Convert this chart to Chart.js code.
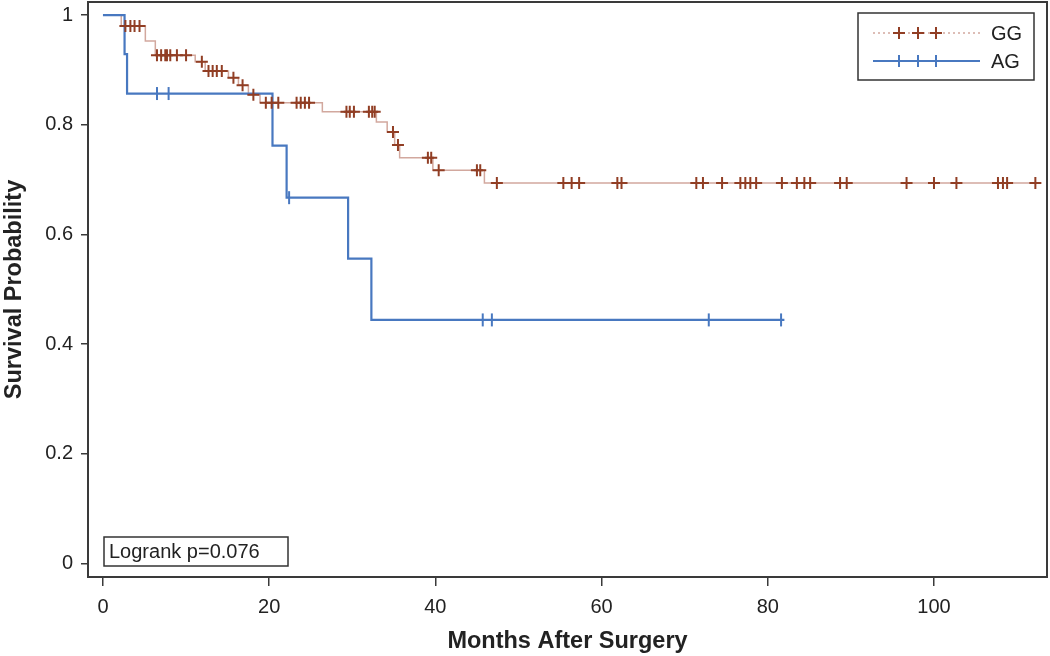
<!DOCTYPE html>
<html>
<head>
<meta charset="utf-8">
<script src="https://cdn.jsdelivr.net/npm/chart.js@4.4.1/dist/chart.umd.min.js"></script>
<style>
  body { margin: 0; background: #fff; }
  canvas { display: block; }
</style>
</head>
<body>
<canvas id="kmChart" width="1050" height="656"></canvas>
<script>
// Kaplan-Meier curves: step times (months) and survival after each step
const ggStepTimes = [0, 2.2, 5.1, 6.3, 11.1, 12.3, 15.1, 16.3, 17.5, 18.9, 26.4, 32.9, 34.2, 35.1, 35.7, 39.7, 45.9, 112.8];
const ggStepSurv  = [1, 0.98, 0.953, 0.927, 0.915, 0.898, 0.886, 0.872, 0.855, 0.840, 0.824, 0.805, 0.787, 0.763, 0.740, 0.717, 0.694, 0.694];
const ggCensorTimes = [2.7, 3.3, 3.8, 4.4, 6.5, 7.0, 7.5, 7.7, 8.1, 8.9, 10.0, 11.9, 12.7, 13.2, 13.7, 14.3,
  15.7, 16.8, 18.1, 19.6, 20.3, 21.1, 23.3, 23.8, 24.3, 24.8, 29.3, 29.7, 30.2, 32.0, 32.4, 32.7, 34.9, 35.5,
  39.1, 39.5, 40.4, 45.0, 45.4, 47.4, 55.4, 56.4, 57.3, 61.9, 62.4, 71.4, 72.2, 74.5, 76.7, 77.3, 77.9, 78.6,
  81.7, 83.5, 84.4, 85.1, 88.7, 89.5, 96.7, 100.0, 102.7, 107.7, 108.3, 108.8, 112.2];

const agStepTimes = [0, 2.6, 2.9, 20.4, 22.1, 29.5, 32.3, 82.0];
const agStepSurv  = [1, 0.929, 0.857, 0.762, 0.667, 0.556, 0.444, 0.444];
const agCensorTimes = [6.5, 7.9, 22.4, 45.7, 46.8, 72.9, 81.6];

const xTicks = [0, 20, 40, 60, 80, 100];
const yTicks = [0, 0.2, 0.4, 0.6, 0.8, 1];
const yTickLabels = ['0', '0.2', '0.4', '0.6', '0.8', '1'];
const seriesNames = ['GG', 'AG'];
const logrankText = 'Logrank p=0.076';

const FONT = "'Liberation Sans', Arial, sans-serif";
const GG_LINE = 'rgb(210,168,158)';
const GG_MARK = 'rgb(145,62,36)';
const AG_COLOR = 'rgb(72,120,192)';
const FRAME = '#3a3a3a';

function survAt(times, surv, t) {
  let s = surv[0];
  for (let i = 0; i < times.length; i++) {
    if (times[i] <= t) s = surv[i];
  }
  return s;
}

function stepPoints(times, surv) {
  return times.map((t, i) => ({ x: t, y: surv[i] }));
}

function censorPoints(censors, times, surv) {
  return censors.map(t => ({ x: t, y: survAt(times, surv, t) }));
}

// frame around plot, legend box and logrank note
const overlayPlugin = {
  id: 'kmOverlay',
  afterDraw(chart) {
    const ctx = chart.ctx;
    const a = chart.chartArea;
    ctx.save();
    ctx.strokeStyle = FRAME;
    ctx.lineWidth = 2;
    ctx.strokeRect(a.left, a.top, a.right - a.left, a.bottom - a.top);

    // legend
    const lx = 858, ly = 13, lw = 176, lh = 67;
    ctx.lineWidth = 1.5;
    ctx.strokeStyle = '#333';
    ctx.fillStyle = '#fff';
    ctx.fillRect(lx, ly, lw, lh);
    ctx.strokeRect(lx, ly, lw, lh);

    const rows = [
      { y: 33, name: seriesNames[0], dash: [2, 3], line: GG_LINE, mark: GG_MARK, cross: true },
      { y: 61, name: seriesNames[1], dash: [], line: AG_COLOR, mark: AG_COLOR, cross: false }
    ];
    rows.forEach(r => {
      ctx.beginPath();
      ctx.setLineDash(r.dash);
      ctx.strokeStyle = r.line;
      ctx.lineWidth = r.cross ? 1.5 : 2;
      ctx.moveTo(873, r.y);
      ctx.lineTo(980, r.y);
      ctx.stroke();
      ctx.setLineDash([]);
      ctx.strokeStyle = r.mark;
      ctx.lineWidth = 2;
      [899, 918, 936].forEach(mx => {
        ctx.beginPath();
        ctx.moveTo(mx, r.y - 6);
        ctx.lineTo(mx, r.y + 6);
        if (r.cross) {
          ctx.moveTo(mx - 6, r.y);
          ctx.lineTo(mx + 6, r.y);
        }
        ctx.stroke();
      });
      ctx.fillStyle = '#222';
      ctx.font = '20px ' + FONT;
      ctx.textBaseline = 'middle';
      ctx.textAlign = 'left';
      ctx.fillText(r.name, 991, r.y + 1);
    });

    // logrank box
    ctx.strokeStyle = '#333';
    ctx.lineWidth = 1.5;
    ctx.strokeRect(104, 537, 184, 29);
    ctx.fillStyle = '#222';
    ctx.font = '20px ' + FONT;
    ctx.textBaseline = 'middle';
    ctx.fillText(logrankText, 109, 552);
    ctx.restore();
  }
};

new Chart(document.getElementById('kmChart'), {
  type: 'line',
  data: {
    datasets: [
      {
        label: 'GG censored',
        type: 'scatter',
        data: censorPoints(ggCensorTimes, ggStepTimes, ggStepSurv),
        pointStyle: 'cross',
        pointRadius: 6,
        borderColor: GG_MARK,
        backgroundColor: GG_MARK,
        borderWidth: 2,
        showLine: false
      },
      {
        label: 'AG censored',
        type: 'scatter',
        data: censorPoints(agCensorTimes, agStepTimes, agStepSurv),
        pointStyle: 'line',
        rotation: 90,
        pointRadius: 6.5,
        borderColor: AG_COLOR,
        backgroundColor: AG_COLOR,
        borderWidth: 2,
        showLine: false
      },
      {
        label: 'AG',
        data: stepPoints(agStepTimes, agStepSurv),
        stepped: 'before',
        borderColor: AG_COLOR,
        borderWidth: 2.2,
        pointRadius: 0,
        fill: false
      },
      {
        label: 'GG',
        data: stepPoints(ggStepTimes, ggStepSurv),
        stepped: 'before',
        borderColor: GG_LINE,
        borderWidth: 1.5,
        pointRadius: 0,
        fill: false
      }
    ]
  },
  options: {
    responsive: false,
    animation: false,
    layout: { autoPadding: false, padding: { left: 0, right: 3, top: 2, bottom: 0 } },
    plugins: {
      legend: { display: false },
      tooltip: { enabled: false }
    },
    scales: {
      x: {
        type: 'linear',
        min: -1.8,
        max: 113.6,
        afterBuildTicks: s => { s.ticks = xTicks.map(v => ({ value: v })); },
        afterFit: s => { s.height = 79; s.paddingLeft = 0; s.paddingRight = 0; },
        border: { display: false },
        grid: { drawOnChartArea: false, drawTicks: true, tickLength: 9, color: FRAME, lineWidth: 1.5 },
        ticks: { color: '#222', font: { family: FONT, size: 20 }, padding: 9, maxRotation: 0 },
        title: {
          display: true,
          text: 'Months After Surgery',
          color: '#222',
          font: { family: FONT, size: 23.5, weight: 'bold' },
          padding: { top: 0, bottom: 0 }
        }
      },
      y: {
        type: 'linear',
        min: -0.025,
        max: 1.024,
        afterBuildTicks: s => { s.ticks = yTicks.map(v => ({ value: v })); },
        afterFit: s => { s.width = 88; s.paddingTop = 0; s.paddingBottom = 0; },
        border: { display: false },
        grid: { drawOnChartArea: false, drawTicks: true, tickLength: 7, color: FRAME, lineWidth: 1.5 },
        ticks: {
          color: '#222',
          font: { family: FONT, size: 20 },
          padding: 8,
          callback: (v) => yTickLabels[yTicks.indexOf(v)]
        },
        title: {
          display: true,
          text: 'Survival Probability',
          color: '#222',
          font: { family: FONT, size: 23.5, weight: 'bold' },
          padding: { top: 0, bottom: 0 }
        }
      }
    }
  },
  plugins: [overlayPlugin]
});
</script>
</body>
</html>
